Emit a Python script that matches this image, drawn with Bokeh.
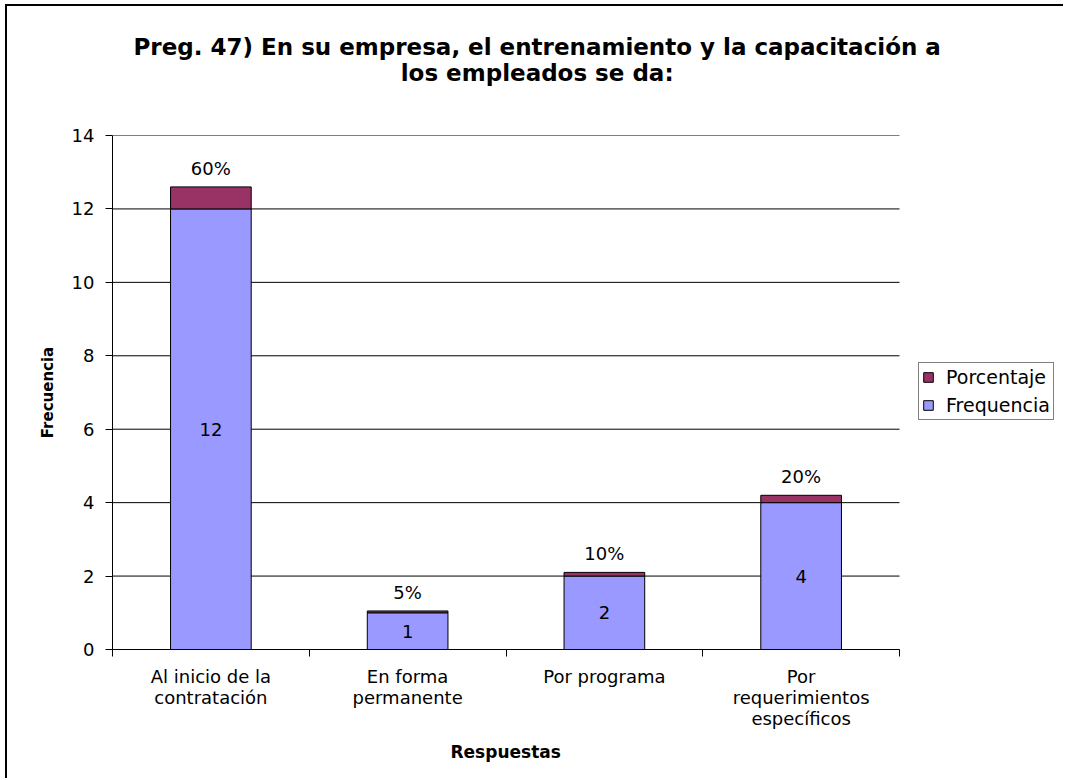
from bokeh.plotting import figure
from bokeh.models import Range1d, FixedTicker, ColumnDataSource, Legend, LegendItem, Title
from bokeh.embed import file_html
from bokeh.resources import INLINE
from bokeh.core.properties import value

# Survey answers and their counts / shares
categories = ["Al inicio de la\ncontratación", "En forma\npermanente",
              "Por programa", "Por\nrequerimientos\nespecíficos"]
frequencia = [12, 1, 2, 4]
porcentaje = [0.60, 0.05, 0.10, 0.20]
y_ticks = [0, 2, 4, 6, 8, 10, 12, 14]
title_lines = ["Preg. 47) En su empresa, el entrenamiento y la capacitación a",
               "los empleados se da:"]
x_title = "Respuestas"
y_title = "Frecuencia"

FONT = "DejaVu Sans"
BLUE = "#9999FF"
PLUM = "#993366"

# Canvas geometry (px): the frame also spans the legend column on the right,
# while bars, axis and grid stay inside the first BAR_AREA pixels.
CANVAS_W, CANVAS_H = 1058, 774
LEFT, TOP, BOTTOM_EDGE, RIGHT_EDGE = 105, 129, 643, 1058
BAR_AREA = 787

n = len(categories)
x_pos = [i + 0.5 for i in range(n)]
boundaries = list(range(n + 1))
x_end = n * (RIGHT_EDGE - LEFT) / BAR_AREA

source = ColumnDataSource(dict(
    x=x_pos,
    frequencia=frequencia,
    porcentaje=porcentaje,
    total=[f + q for f, q in zip(frequencia, porcentaje)],
    mid=[f / 2 for f in frequencia],
    freq_label=[str(f) for f in frequencia],
    pct_label=[f"{round(q * 100)}%" for q in porcentaje],
))

p = figure(
    width=CANVAS_W, height=CANVAS_H,
    x_range=Range1d(0, x_end), y_range=Range1d(y_ticks[0], y_ticks[-1]),
    output_backend="svg", toolbar_location=None,
    min_border_left=LEFT, min_border_right=CANVAS_W - RIGHT_EDGE,
    min_border_top=TOP, min_border_bottom=CANVAS_H - BOTTOM_EDGE,
    styles={"position": "relative", "left": "7px", "top": "6px",
            "box-shadow": "-2px -2px 0 0 black"},
)
p.background_fill_color = "white"
p.border_fill_color = "white"
p.outline_line_color = None

# Chart title: a thin spacer next to the frame, then the two title lines
p.add_layout(Title(text=" ", text_font_size="1px", standoff=47), "above")
main_title = Title(text="\n".join(title_lines), align="left", offset=21, standoff=0,
                   text_font=FONT, text_font_size="23px", text_font_style="bold",
                   text_color="black")
try:
    main_title.text_align = "center"
except AttributeError:
    pass
p.add_layout(main_title, "above")

# Horizontal grid lines across the bar area
p.xgrid.visible = False
p.ygrid.visible = False
p.segment(x0=0, x1=n, y0=y_ticks, y1=y_ticks, line_color="black", line_width=1)

# Stacked bars
bars = p.vbar_stack(["frequencia", "porcentaje"], x="x", width=0.41, source=source,
                    fill_color=[BLUE, PLUM], line_color="black", line_width=1)

# Value labels
p.text(x="x", y="mid", text="freq_label", source=source,
       text_font=value(FONT), text_font_size="18px", text_color="black",
       text_align="center", text_baseline="middle")
p.text(x="x", y="total", text="pct_label", source=source,
       text_font=value(FONT), text_font_size="18px", text_color="black",
       text_align="center", text_baseline="bottom", y_offset=-8)

# Y axis
yaxis = p.yaxis[0]
yaxis.ticker = FixedTicker(ticks=y_ticks)
yaxis.axis_line_color = "black"
yaxis.major_tick_line_color = "black"
yaxis.major_tick_out = 7
yaxis.major_tick_in = 0
yaxis.minor_tick_line_color = None
yaxis.major_label_text_font = FONT
yaxis.major_label_text_font_size = "18px"
yaxis.major_label_text_color = "black"
yaxis.major_label_standoff = 11
yaxis.axis_label = y_title
yaxis.axis_label_text_font = FONT
yaxis.axis_label_text_font_size = "15px"
yaxis.axis_label_text_font_style = "bold"
yaxis.axis_label_text_color = "black"
yaxis.axis_label_standoff = 12

# X axis: labels under each bar, tick marks between categories
xaxis = p.xaxis[0]
xaxis.bounds = (0, n)
xaxis.ticker = FixedTicker(ticks=x_pos, minor_ticks=boundaries)
xaxis.major_label_overrides = {x: c for x, c in zip(x_pos, categories)}
xaxis.axis_line_color = "black"
xaxis.major_tick_line_color = None
xaxis.major_tick_out = 0
xaxis.major_tick_in = 0
xaxis.minor_tick_line_color = "black"
xaxis.minor_tick_out = 7
xaxis.minor_tick_in = 0
xaxis.major_label_text_font = FONT
xaxis.major_label_text_font_size = "18px"
xaxis.major_label_text_line_height = 1.0
xaxis.major_label_text_color = "black"
xaxis.major_label_standoff = 9

# Axis title under the category labels, centred on the bar area
p.add_layout(Title(text=x_title, align="left", offset=338, standoff=17,
                   text_font=FONT, text_font_size="17px",
                   text_font_style="bold", text_color="black"), "below")

# Legend in the right-hand column
legend = Legend(
    items=[LegendItem(label="Porcentaje", renderers=[bars[1]]),
           LegendItem(label="Frequencia", renderers=[bars[0]])],
    location=(806, 229),
    label_text_font=FONT, label_text_font_size="19px", label_text_color="black",
    glyph_width=12, glyph_height=12, label_standoff=12, label_height=20,
    padding=3, spacing=6, margin=0,
    border_line_color="black", border_line_width=1,
    background_fill_color="white", background_fill_alpha=1,
)
p.add_layout(legend)

open("out.html", "w").write(file_html(p, INLINE))
